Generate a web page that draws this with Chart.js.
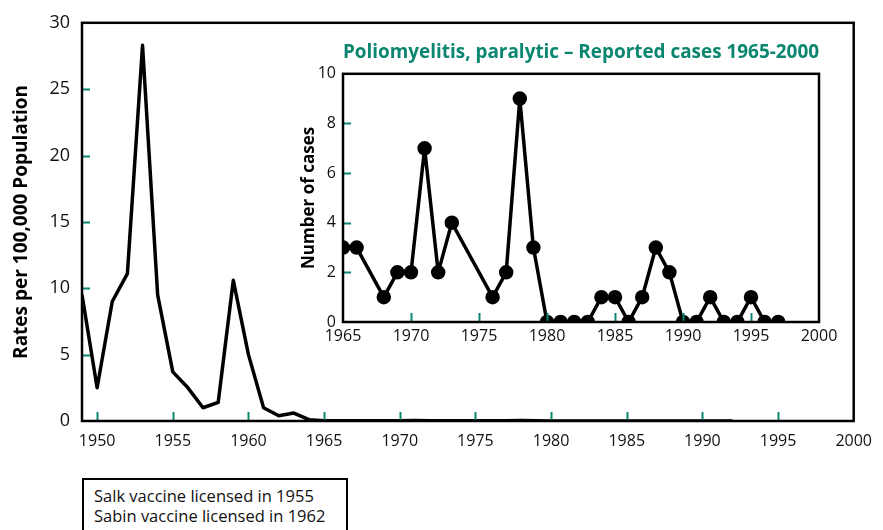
<!DOCTYPE html>
<html>
<head>
<meta charset="utf-8">
<script src="https://cdn.jsdelivr.net/npm/chart.js@4"></script>
<style>
  body { margin: 0; background: #fff; width: 883px; height: 530px; overflow: hidden; position: relative; font-family: "Open Sans", sans-serif; }
  #js--main { position: absolute; left: 0; top: 0; }
  #js--inset { position: absolute; left: 290px; top: 30px; }
  .note { position: absolute; left: 82px; top: 478px; width: 266px; height: 70px; border: 2px solid #000; padding: 6px 0 0 10px; box-sizing: border-box; font-size: 16.5px; line-height: 20px; color: #111; }
</style>
</head>
<body>
<canvas id="js--main" width="883" height="460"></canvas>
<canvas id="js--inset" width="560" height="320"></canvas>
<div class="note">Salk vaccine licensed in 1955<br>Sabin vaccine licensed in 1962</div>
<script>
// rates per 100,000, 1949 - 1992
const rateYears = [1949, 1950, 1951, 1952, 1953, 1954, 1955, 1956, 1957, 1958, 1959, 1960,
  1961, 1962, 1963, 1964, 1965, 1966, 1967, 1968, 1969, 1970, 1971, 1972, 1973, 1974, 1975,
  1976, 1977, 1978, 1979, 1980, 1981, 1982, 1983, 1984, 1985, 1986, 1987, 1988, 1989, 1990, 1991, 1992];
const rates = [9.5, 2.5, 9.0, 11.1, 28.3, 9.5, 3.7, 2.5, 1.0, 1.4, 10.6, 5.0,
  1.0, 0.4, 0.6, 0.1, 0.02, 0.01, 0.01, 0.01, 0.01, 0.01, 0.03, 0.01, 0.01, 0.01, 0.01,
  0.01, 0.01, 0.04, 0.01, 0, 0, 0, 0, 0, 0, 0, 0, 0, 0, 0, 0, 0];

// reported paralytic cases, 1965 - 1997 (1967, 1974, 1975 not plotted)
const caseYears = [1965, 1966, 1968, 1969, 1970, 1971, 1972, 1973, 1976, 1977, 1978, 1979,
  1980, 1981, 1982, 1983, 1984, 1985, 1986, 1987, 1988, 1989, 1990, 1991, 1992, 1993, 1994, 1995, 1996, 1997];
const cases = [3, 3, 1, 2, 2, 7, 2, 4, 1, 2, 9, 3,
  0, 0, 0, 0, 1, 1, 0, 1, 3, 2, 0, 0, 1, 0, 0, 1, 0, 0];

const teal = "#0b8670";
const font = "'Open Sans', 'Noto Sans', sans-serif";

// black frame round the plot + short green ticks drawn inwards
const frameTicks = {
  id: "frameTicks",
  afterDraw(chart) {
    const ctx = chart.ctx;
    const a = chart.chartArea;
    const x = chart.scales.x, y = chart.scales.y;
    ctx.save();
    ctx.strokeStyle = teal;
    ctx.lineWidth = 2;
    y.ticks.forEach(function (t) {
      if (t.value === y.min || t.value === y.max) return;
      const py = Math.round(y.getPixelForValue(t.value)) + 0.5;
      ctx.beginPath(); ctx.moveTo(a.left, py); ctx.lineTo(a.left + 8, py); ctx.stroke();
    });
    x.ticks.forEach(function (t) {
      if (t.value <= x.min || t.value >= x.max) return;
      const px = Math.round(x.getPixelForValue(t.value)) + 0.5;
      ctx.beginPath(); ctx.moveTo(px, a.bottom); ctx.lineTo(px, a.bottom - 9); ctx.stroke();
    });
    ctx.strokeStyle = "#000";
    ctx.lineWidth = 2.5;
    ctx.strokeRect(a.left, a.top, a.right - a.left, a.bottom - a.top);
    ctx.restore();
  }
};

const mainData = rateYears.map(function (yr, i) { return { x: yr, y: rates[i] }; });

new Chart(document.getElementById("js--main"), {
  type: "line",
  data: { datasets: [{ data: mainData, borderColor: "#000", borderWidth: 3.5, borderJoinStyle: "round", pointRadius: 0, tension: 0 }] },
  options: {
    responsive: false,
    animation: false,
    layout: { padding: { left: 0, right: 26, top: 15, bottom: 0 } },
    plugins: { legend: { display: false }, tooltip: { enabled: false } },
    scales: {
      x: {
        type: "linear", min: 1949, max: 2000,
        afterBuildTicks: function (s) { s.ticks = [1950, 1955, 1960, 1965, 1970, 1975, 1980, 1985, 1990, 1995, 2000].map(function (v) { return { value: v }; }); },
        afterFit: function (s) { s.height = 39; },
        grid: { display: false, drawTicks: false },
        border: { display: false },
        ticks: { color: "#111", font: { family: font, size: 16 }, padding: 11, maxRotation: 0, callback: function (v) { return String(v); } }
      },
      y: {
        min: 0, max: 30,
        afterFit: function (s) { s.width = 82; },
        grid: { display: false, drawTicks: false },
        border: { display: false },
        ticks: { stepSize: 5, color: "#111", font: { family: font, size: 18 }, padding: 12 },
        title: { display: true, text: "Rates per 100,000 Population", color: "#000", font: { family: font, size: 19, weight: "bold" }, padding: { top: 10, bottom: 0 } }
      }
    }
  },
  plugins: [frameTicks]
});

const insetData = caseYears.map(function (yr, i) { return { x: yr, y: cases[i] }; });

new Chart(document.getElementById("js--inset"), {
  type: "line",
  data: { datasets: [{ data: insetData, borderColor: "#000", borderWidth: 3.5, borderJoinStyle: "round", pointRadius: 5.5, pointBackgroundColor: "#000", pointBorderColor: "#000", tension: 0 }] },
  options: {
    responsive: false,
    animation: false,
    layout: { padding: { left: 0, right: 31, top: 0, bottom: 0 } },
    plugins: {
      legend: { display: false }, tooltip: { enabled: false },
      title: { display: true, fullSize: false, text: "Poliomyelitis, paralytic \u2013 Reported cases 1965-2000", color: teal, font: { family: font, size: 19, weight: "bold" }, padding: { top: 11, bottom: 10 } }
    },
    scales: {
      x: {
        type: "linear", min: 1965, max: 2000,
        afterBuildTicks: function (s) { s.ticks = [1965, 1970, 1975, 1980, 1985, 1990, 1995, 2000].map(function (v) { return { value: v }; }); },
        afterFit: function (s) { s.height = 28; },
        grid: { display: false, drawTicks: false },
        border: { display: false },
        ticks: { color: "#111", font: { family: font, size: 16 }, padding: 5, maxRotation: 0, callback: function (v) { return String(v); } }
      },
      y: {
        min: 0, max: 10,
        afterFit: function (s) { s.width = 53; },
        grid: { display: false, drawTicks: false },
        border: { display: false },
        ticks: { stepSize: 2, color: "#111", font: { family: font, size: 16 }, padding: 7 },
        title: { display: true, text: "Number of cases", color: "#000", font: { family: font, size: 17, weight: "bold" }, padding: { top: 9, bottom: 0 } }
      }
    }
  },
  plugins: [frameTicks]
});
</script>
</body>
</html>
